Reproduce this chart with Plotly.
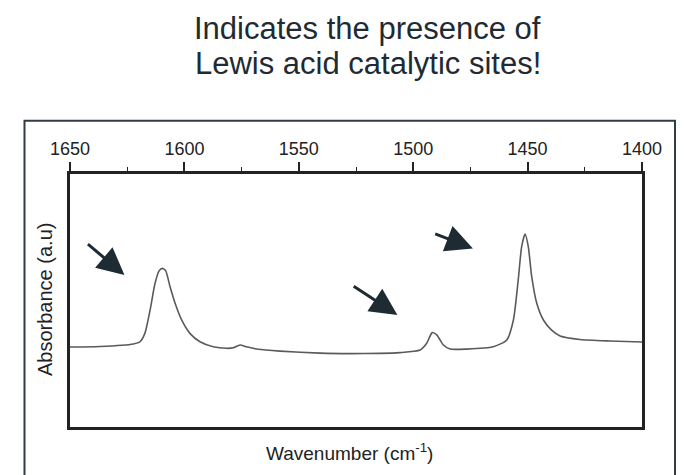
import plotly.graph_objects as go

# IR spectrum of adsorbed pyridine (wavenumber in cm-1, absorbance in arbitrary units)
wavenumber = [
    1650.0, 1636.9, 1622.3, 1619.4, 1617.2, 1615.0, 1612.8, 1611.0, 1609.7, 1608.2,
    1606.3, 1604.1, 1601.2, 1597.6, 1593.2, 1587.4, 1581.5, 1578.6, 1575.7, 1572.8,
    1567.7, 1558.2, 1540.7, 1527.6, 1514.5, 1505.8, 1497.0, 1494.1, 1491.7, 1489.7,
    1486.8, 1483.9, 1476.6, 1465.0, 1459.1, 1456.2, 1454.1, 1452.6, 1451.1, 1449.7,
    1448.2, 1446.0, 1443.1, 1439.5, 1435.8, 1427.1, 1414.0, 1400.0,
]
absorbance = [
    0.316, 0.318, 0.328, 0.337, 0.372, 0.462, 0.569, 0.618, 0.627, 0.618,
    0.555, 0.490, 0.423, 0.370, 0.337, 0.317, 0.311, 0.313, 0.324, 0.317,
    0.307, 0.300, 0.292, 0.290, 0.291, 0.294, 0.304, 0.331, 0.373, 0.364,
    0.324, 0.308, 0.308, 0.317, 0.344, 0.423, 0.581, 0.713, 0.763, 0.713,
    0.594, 0.489, 0.423, 0.383, 0.360, 0.346, 0.340, 0.336,
]

major_ticks = [1650, 1600, 1550, 1500, 1450, 1400]
minor_ticks = [1625, 1575, 1525, 1475, 1425]

# Arrow tips (wavenumber, absorbance) and tail offsets in pixels
arrow_x = [1626.2, 1506.9, 1473.9]
arrow_y = [0.601, 0.443, 0.706]
arrow_ax = [-39.5, -46.7, -40.7]
arrow_ay = [-33.3, -30.7, -15.6]

title_lines = ["Indicates the presence of", "Lewis acid catalytic sites!"]

FONT = "Liberation Sans, Arial, sans-serif"
INK = "#222222"
SLATE = "#1e2b33"

fig = go.Figure()
fig.add_trace(go.Scatter(
    x=wavenumber, y=absorbance, mode="lines",
    line=dict(color="#5a5a5a", width=1.6, shape="spline", smoothing=0.6),
    hoverinfo="skip", showlegend=False,
))

fig.update_xaxes(
    range=[1650, 1400], side="top",
    tickvals=major_ticks, ticktext=[str(v) for v in major_ticks],
    ticks="outside", ticklen=9, tickwidth=1.5, tickcolor=INK,
    minor=dict(tickvals=minor_ticks, ticks="outside", ticklen=4,
               tickwidth=1.2, tickcolor=INK),
    showline=True, linewidth=2.5, linecolor=INK, mirror=True,
    showgrid=False, zeroline=False,
    ticklabelstandoff=0,
    tickfont=dict(family=FONT, size=18, color=INK),
)
fig.update_yaxes(
    range=[0, 1], showticklabels=False, ticks="",
    showline=True, linewidth=2.5, linecolor=INK, mirror=True,
    showgrid=False, zeroline=False,
)

annotations = []
for x, y, ax, ay in zip(arrow_x, arrow_y, arrow_ax, arrow_ay):
    annotations.append(dict(
        x=x, y=y, xref="x", yref="y", ax=ax, ay=ay, text=" ",
        showarrow=True, arrowhead=2, arrowsize=1.8, arrowwidth=3,
        arrowcolor=SLATE, standoff=0,
    ))

annotations.append(dict(
    text="Absorbance (a.u)", textangle=-90, xref="paper", yref="paper",
    x=-0.0437, y=0.502, xanchor="center", yanchor="middle", showarrow=False,
    font=dict(family=FONT, size=20, color=INK),
))
annotations.append(dict(
    text="Wavenumber (cm<sup>-1</sup>)", xref="paper", yref="paper",
    x=0.4895, y=-0.097, xanchor="center", yanchor="middle", showarrow=False,
    font=dict(family=FONT, size=19, color=INK),
))
for i, line in enumerate(title_lines):
    annotations.append(dict(
        text=line, xref="paper", yref="paper",
        x=(367.5 - 70) / 572, y=(427 - (28 + 35 * i)) / 253,
        xanchor="center", yanchor="middle", showarrow=False,
        font=dict(family=FONT, size=31, color=SLATE),
    ))

fig.update_layout(
    width=684, height=475,
    margin=dict(l=70, r=42, t=174, b=48),
    paper_bgcolor="white", plot_bgcolor="white",
    annotations=annotations,
    shapes=[dict(
        type="rect", xref="paper", yref="paper",
        x0=(24.5 - 70) / 572, x1=(675 - 70) / 572,
        y0=(427 - 490) / 253, y1=(427 - 120.7) / 253,
        line=dict(color="#2e3e46", width=2), layer="below",
    )],
)

fig.write_html("out.html")
